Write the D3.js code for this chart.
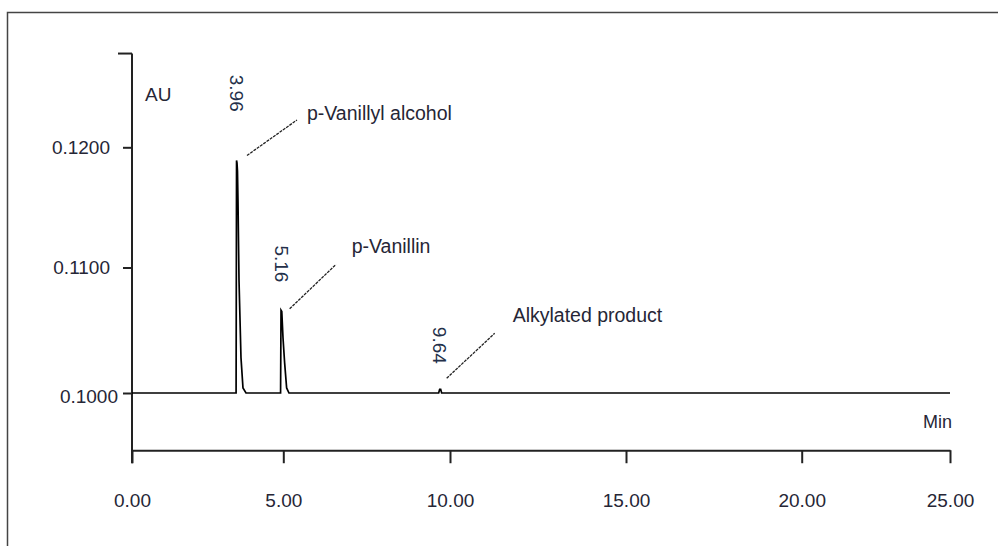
<!DOCTYPE html>
<html>
<head>
<meta charset="utf-8">
<script src="https://cdn.jsdelivr.net/npm/d3@7"></script>
<style>
    html, body { margin: 0; padding: 0; background: #fff; }
    svg { display: block; font-family: "Liberation Sans", Arial, sans-serif; }
</style>
</head>
<body>
<svg id="chart"></svg>
<script>
// chromatogram trace, time (min) vs absorbance (AU)
let traceTime = [0, 3.44, 3.455, 3.47, 3.486, 3.503, 3.536, 3.602, 3.668, 3.767,
    4.91, 4.925, 4.95, 4.99, 5.04, 5.10, 5.17,
    9.66, 9.69, 9.72, 9.75, 25];
let traceAU = [0.1000, 0.1000, 0.1189, 0.1187, 0.1180, 0.1155, 0.1090, 0.1028, 0.1004, 0.1000,
    0.1000, 0.1066, 0.1065, 0.1044, 0.1024, 0.1004, 0.1000,
    0.1000, 0.1003, 0.1003, 0.1000, 0.1000];

// peaks: where they sit on the time axis, and the retention times printed above them
let peakTime = [3.46, 4.93, 9.70];
let peakLabel = ["3.96", "5.16", "9.64"];
let peakLabelAU = [0.1245, 0.1103, 0.1038];

// compound names and their leader lines
let compoundName = ["p-Vanillyl alcohol", "p-Vanillin", "Alkylated product"];
let nameAt = [[5.71, 0.12227], [7.05, 0.11121], [11.78, 0.10566]];
let leaderFrom = [[3.80, 0.11932], [5.19, 0.10671], [9.90, 0.10117]];
let leaderTo = [[5.41, 0.12227], [6.58, 0.11025], [11.27, 0.10476]];

// axes
let xTicks = [0, 5, 10, 15, 20, 25];
let yTicks = [0.1000, 0.1100, 0.1200];
let yAxisExtent = [0.0944, 0.1278];

let width = 998, height = 546;
let textColor = "#262636";

let svg = d3.select("#chart")
    .attr("width", width)
    .attr("height", height);

// the scanned axis is not evenly spaced, so the scales are piecewise
let x = d3.scaleLinear()
    .domain(xTicks)
    .range([132, 283.3, 450, 626, 801.7, 950]);
let y = d3.scaleLinear()
    .domain(yTicks)
    .range([393, 267.5, 147.3]);

// outer frame, only top and left edges are inside the picture
svg.append("rect")
    .attr("x", 7.5)
    .attr("y", 12.5)
    .attr("width", 1200)
    .attr("height", 800)
    .attr("fill", "none")
    .attr("stroke", "#444")
    .attr("stroke-width", 1.5);

// y axis
let yAxis = d3.axisLeft(y)
    .tickValues(yTicks)
    .tickSize(9)
    .tickPadding(13)
    .tickFormat(d3.format(".4f"));
let gy = svg.append("g")
    .attr("transform", "translate(" + x(0) + ",0)")
    .call(yAxis);
gy.select(".domain").remove();
gy.selectAll(".tick line").attr("stroke", "#222").attr("stroke-width", 2);
gy.selectAll(".tick text")
    .attr("fill", textColor)
    .style("font-size", "19px")
    .attr("transform", function(d) { return d === 0.1 ? "translate(8,3)" : null; });
gy.append("line")
    .attr("x1", 0).attr("x2", 0)
    .attr("y1", y(yAxisExtent[0])).attr("y2", y(yAxisExtent[1]))
    .attr("stroke", "#222").attr("stroke-width", 2);
gy.append("line")
    .attr("x1", -14).attr("x2", 0)
    .attr("y1", y(yAxisExtent[1])).attr("y2", y(yAxisExtent[1]))
    .attr("stroke", "#222").attr("stroke-width", 2);

// x axis, sits below the baseline
let xAxis = d3.axisBottom(x)
    .tickValues(xTicks)
    .tickSize(13)
    .tickPadding(30)
    .tickSizeOuter(0)
    .tickFormat(d3.format(".2f"));
let gx = svg.append("g")
    .attr("transform", "translate(0," + y(0.09544) + ")")
    .call(xAxis);
gx.select(".domain").attr("stroke", "#222").attr("stroke-width", 2);
gx.selectAll(".tick line").attr("stroke", "#222").attr("stroke-width", 2);
gx.selectAll(".tick text")
    .attr("fill", textColor)
    .style("font-size", "19px");

// axis titles
svg.append("text")
    .attr("x", x(0) + 13)
    .attr("y", 101)
    .attr("fill", textColor)
    .style("font-size", "19px")
    .text("AU");
svg.append("text")
    .attr("x", x(25) + 2)
    .attr("y", 428)
    .attr("text-anchor", "end")
    .attr("fill", textColor)
    .style("font-size", "18px")
    .text("Min");

// trace
let line = d3.line()
    .x(function(d) { return x(d[0]); })
    .y(function(d) { return y(d[1]); });
svg.append("path")
    .datum(d3.zip(traceTime, traceAU))
    .attr("d", line)
    .attr("fill", "none")
    .attr("stroke", "#000")
    .attr("stroke-width", 1.7)
    .attr("stroke-linejoin", "miter");

// retention time labels, rotated
svg.selectAll(".rt")
    .data(peakTime)
    .enter().append("text")
    .attr("class", "rt")
    .attr("transform", function(d, i) { return "translate(" + x(d) + "," + y(peakLabelAU[i]) + ") rotate(90)"; })
    .attr("text-anchor", "middle")
    .attr("dominant-baseline", "central")
    .attr("fill", "#24304a")
    .style("font-size", "19px")
    .text(function(d, i) { return peakLabel[i]; });

// leader lines
svg.selectAll(".leader")
    .data(leaderFrom)
    .enter().append("line")
    .attr("class", "leader")
    .attr("x1", function(d) { return x(d[0]); })
    .attr("y1", function(d) { return y(d[1]); })
    .attr("x2", function(d, i) { return x(leaderTo[i][0]); })
    .attr("y2", function(d, i) { return y(leaderTo[i][1]); })
    .attr("stroke", "#222")
    .attr("stroke-width", 1.3)
    .attr("stroke-dasharray", "3,1");

// compound names
svg.selectAll(".name")
    .data(compoundName)
    .enter().append("text")
    .attr("class", "name")
    .attr("x", function(d, i) { return x(nameAt[i][0]); })
    .attr("y", function(d, i) { return y(nameAt[i][1]); })
    .attr("fill", textColor)
    .style("font-size", "19.5px")
    .text(function(d) { return d; });
</script>
</body>
</html>
